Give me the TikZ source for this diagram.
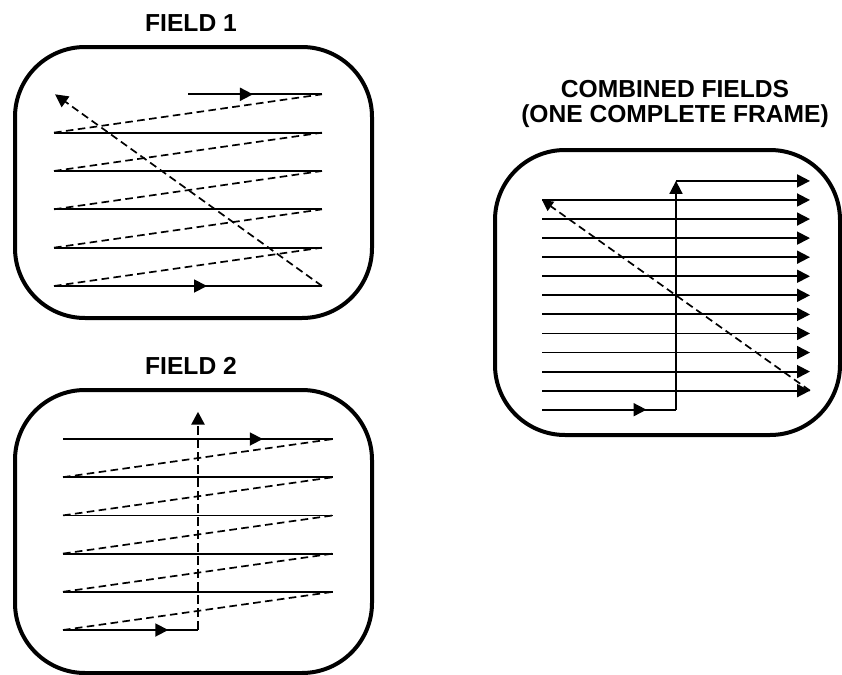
\documentclass[tikz,border=0pt]{standalone}
\usepackage{fontspec}
\setmainfont{Liberation Sans}
\usetikzlibrary{arrows.meta,decorations.markings}

\begin{document}
\begin{tikzpicture}[x=0.5pt,y=-0.5pt,
    frame/.style={line width=2pt, rounded corners=35pt},
    scanline/.style={line width=0.9pt},
    retrace/.style={line width=0.85pt, dash pattern=on 3.8pt off 2.2pt},
    tip/.style={-{Triangle[length=6.5pt,width=6.5pt]}},
    midarrow/.style={postaction={decorate},
      decoration={markings, mark=at position #1 with {\arrow{Triangle[length=6.5pt,width=6.5pt]}}}},
    title/.style={font=\fontsize{12.3}{14}\selectfont\bfseries, anchor=base, inner sep=0pt}]
  \useasboundingbox (0,0) rectangle (842,675);

  % field 1
  \draw[frame] (15,47) rectangle (372,318);
  \node[title] (field1) at (191,31.7) {FIELD 1};
  \foreach \k in {1,...,4}
    \draw[scanline] (54,94.3+38.34*\k) -- (322,94.3+38.34*\k);
  \draw[scanline, midarrow=0.485] (188,94.3) -- (322,94.3);
  \draw[scanline, midarrow=0.571] (54,286) -- (322,286);
  \foreach \k in {0,...,4}
    \draw[retrace] (54,132.64+38.34*\k) -- (322,94.3+38.34*\k);
  \draw[retrace, tip] (322,286) -- (55,94.3);

  % field 2
  \draw[frame] (15,390) rectangle (372,673);
  \node[title] (field2) at (191,374.3) {FIELD 2};
  \foreach \k in {1,...,4}
    \draw[scanline] (63,439+38.2*\k) -- (333,439+38.2*\k);
  \draw[scanline, midarrow=0.74] (63,439) -- (333,439);
  \draw[scanline, midarrow=0.78] (63,630) -- (198,630);
  \foreach \k in {0,...,4}
    \draw[retrace] (63,477.2+38.2*\k) -- (333,439+38.2*\k);
  \draw[retrace, line width=1.3pt, dash pattern=on 4.5pt off 2pt, tip] (198,630) -- (198,411.7);

  % combined fields
  \draw[frame] (495,150) rectangle (840,435);
  \node[title] (comb1) at (675,97) {COMBINED FIELDS};
  \node[title] (comb2) at (675,122.5) {(ONE COMPLETE FRAME)};
  \foreach \k in {1,...,11}
    \draw[scanline, tip] (542,180.9+19.07*\k) -- (810,180.9+19.07*\k);
  \draw[scanline, tip] (676,180.9) -- (810,180.9);
  \draw[scanline, midarrow=0.78] (542,409.7) -- (676,409.7);
  \draw[scanline, tip] (676,409.7) -- (676,180.9);
  \draw[retrace, -{Triangle[length=5.5pt,width=5.5pt]}] (810,390.7) -- (542,200);
\end{tikzpicture}
\end{document}
